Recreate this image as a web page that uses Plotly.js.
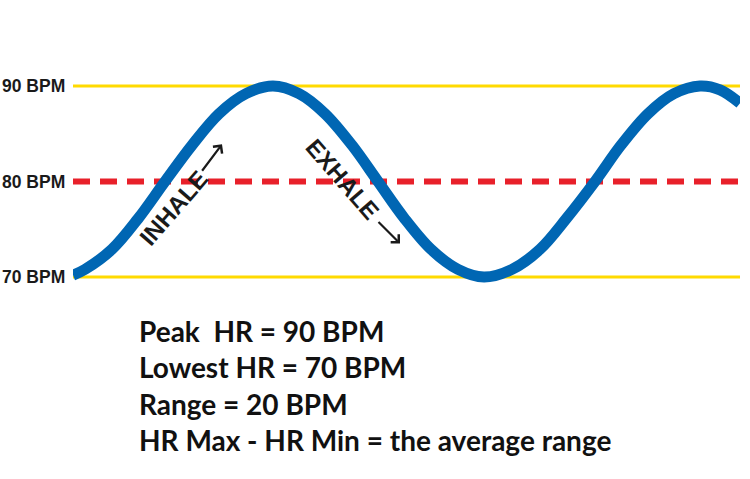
<!DOCTYPE html>
<html>
<head>
<meta charset="utf-8">
<script src="https://cdn.plot.ly/plotly-3.0.1.min.js"></script>
<style>html,body{margin:0;padding:0;background:#fff;}#chart{width:750px;height:479px;}</style>
</head>
<body>
<div id="chart"></div>
<script>
// Heart-rate wave (x = time position, y = BPM)
const waveX = [73, 85, 112, 138, 165, 192, 219, 246, 273, 299, 325, 352, 378, 404, 431, 458, 484,
               512, 540, 567, 595, 621, 648, 674, 700, 720, 740];
const waveY = [70.2, 70.8, 72.9, 76.1, 80, 83.8, 87.1, 89.2, 90, 89.2, 87.1, 83.8, 80, 76.2, 72.9, 70.8, 70,
               70.8, 72.9, 76.2, 80, 83.8, 87.1, 89.2, 90, 89.6, 88.2];

// Reference levels
const levelX = [73, 740];
const peakHR = 90;
const avgHR = 80;
const lowHR = 70;
const levelLabels = ["90 BPM", "80 BPM", "70 BPM"];
const levelValues = [90, 80, 70];

const infoLines = [
  "Peak  HR = 90 BPM",
  "Lowest HR = 70 BPM",
  "Range = 20 BPM",
  "HR Max - HR Min = the average range"
];

const traces = [
  {x: levelX, y: [peakHR, peakHR], mode: 'lines', line: {color: '#FFDA00', width: 3}, hoverinfo: 'skip'},
  {x: levelX, y: [lowHR, lowHR], mode: 'lines', line: {color: '#FFDA00', width: 3}, hoverinfo: 'skip'},
  {x: levelX, y: [avgHR, avgHR], mode: 'lines', line: {color: '#E8202A', width: 6, dash: '17px,10px'}, hoverinfo: 'skip'},
  {x: waveX, y: waveY, mode: 'lines', line: {color: '#0066B3', width: 11, shape: 'spline', smoothing: 1}, hoverinfo: 'skip'}
];

const annotations = [];
levelLabels.forEach((t, i) => {
  annotations.push({xref: 'paper', x: 0, xanchor: 'right', xshift: -7, yref: 'y', y: levelValues[i], yanchor: 'middle',
    text: '<b>' + t + '</b>', showarrow: false, borderpad: 0,
    font: {family: 'Liberation Sans, Arial, sans-serif', size: 17.5, color: '#1a1a1a'}});
});
annotations.push({x: 173, y: 77.2, text: '<b>INHALE</b>', textangle: -49, showarrow: false,
  font: {family: 'Liberation Sans, Arial, sans-serif', size: 24, color: '#1a1a1a'}});
annotations.push({x: 342, y: 80.3, text: '<b>EXHALE</b>', textangle: 49, showarrow: false,
  font: {family: 'Liberation Sans, Arial, sans-serif', size: 24, color: '#1a1a1a'}});
annotations.push({x: 222, y: 83.9, ax: -21, ay: 28, text: '', showarrow: true, arrowhead: 4, arrowsize: 1, arrowwidth: 2.2, arrowcolor: '#1a1a1a'});
annotations.push({x: 400, y: 73.5, ax: -23, ay: -23, text: '', showarrow: true, arrowhead: 4, arrowsize: 1, arrowwidth: 2.2, arrowcolor: '#1a1a1a'});

const lineY = [0.302, 0.224, 0.143, 0.065];
infoLines.forEach((t, i) => {
  annotations.push({xref: 'paper', yref: 'paper', x: 0.096, y: lineY[i], xanchor: 'left', yanchor: 'middle',
    text: '<b>' + t + '</b>', showarrow: false,
    font: {family: 'Lato, Open Sans, sans-serif', size: 28, color: '#111'}});
});

const layout = {
  width: 750, height: 479,
  margin: {l: 73, r: 10, t: 10, b: 9},
  paper_bgcolor: '#fff', plot_bgcolor: '#fff',
  showlegend: false,
  xaxis: {range: [73, 740], visible: false, fixedrange: true},
  yaxis: {range: [49.79, 97.96], visible: false, fixedrange: true},
  annotations: annotations
};

Plotly.newPlot('chart', traces, layout, {staticPlot: true, displayModeBar: false});
</script>
</body>
</html>
